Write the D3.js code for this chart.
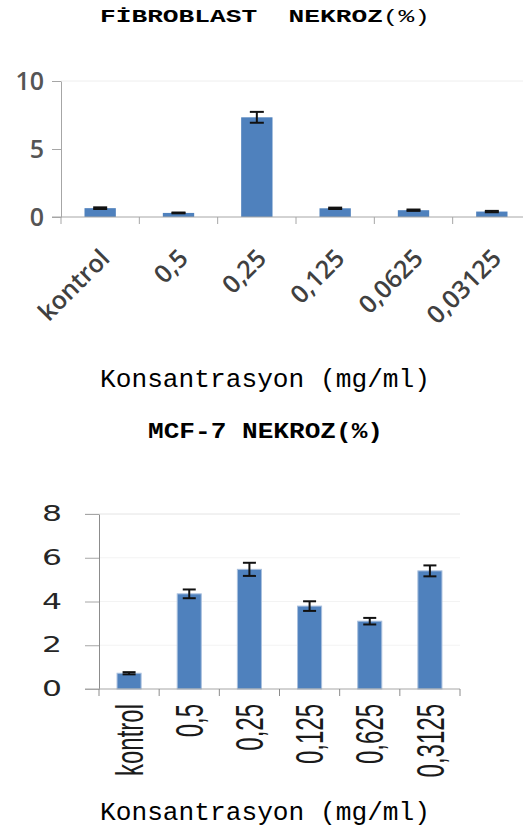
<!DOCTYPE html>
<html>
<head>
<meta charset="utf-8">
<title>Nekroz</title>
<script src="https://cdn.jsdelivr.net/npm/d3@7"></script>
<style>
  body { margin: 0; background: #fff; }
  svg { display: block; }
  .title { font-family: "Courier New", "Liberation Mono", monospace; white-space: pre; }
</style>
</head>
<body>
<svg id="chart" width="523" height="832"></svg>
<script>
// fibroblast chart
const fibroCats = ["kontrol", "0,5", "0,25", "0,125", "0,0625", "0,03125"];
const fibroVals = [0.65, 0.3, 7.33, 0.64, 0.5, 0.4];
const fibroErr = [0.06, 0.03, 0.4, 0.05, 0.05, 0.05];
const fibroTicks = [0, 5, 10];

// MCF-7 chart
const mcfCats = ["kontrol", "0,5", "0,25", "0,125", "0,625", "0,3125"];
const mcfVals = [0.72, 4.35, 5.47, 3.79, 3.1, 5.4];
const mcfErr = [0.05, 0.2, 0.3, 0.22, 0.15, 0.25];
const mcfTicks = [0, 2, 4, 6, 8];

const barColor = "#4f81bd";
const svg = d3.select("#chart");

function titles() {
  svg.append("text").attr("class", "title")
    .attr("x", 100).attr("y", 22)
    .attr("textLength", 330).attr("lengthAdjust", "spacingAndGlyphs")
    .style("font-size", "18px")
    .call(t => {
      t.append("tspan").style("font-weight", "bold").text("FİBROBLAST  NEKROZ");
      t.append("tspan").text("(%)");
    });

  svg.append("text").attr("class", "title")
    .attr("x", 148).attr("y", 438)
    .attr("textLength", 235).attr("lengthAdjust", "spacingAndGlyphs")
    .style("font-size", "22px").style("font-weight", "bold")
    .text("MCF-7 NEKROZ(%)");

  [387, 820].forEach(y => {
    svg.append("text").attr("class", "title")
      .attr("x", 100).attr("y", y)
      .attr("textLength", 330).attr("lengthAdjust", "spacingAndGlyphs")
      .style("font-size", "26px")
      .text("Konsantrasyon (mg/ml)");
  });
}

function errorBars(g, cats, vals, errs, x, y, cap) {
  const eb = g.selectAll(".err").data(cats).enter().append("g").attr("class", "err")
    .attr("stroke", "#111").attr("stroke-width", 2);
  const cx = d => x(d) + x.bandwidth() / 2;
  eb.append("line")
    .attr("x1", cx).attr("x2", cx)
    .attr("y1", (d, i) => y(vals[i] + errs[i]))
    .attr("y2", (d, i) => y(vals[i] - errs[i]));
  eb.append("line")
    .attr("x1", d => cx(d) - cap / 2).attr("x2", d => cx(d) + cap / 2)
    .attr("y1", (d, i) => y(vals[i] + errs[i]))
    .attr("y2", (d, i) => y(vals[i] + errs[i]));
  eb.append("line")
    .attr("x1", d => cx(d) - cap / 2).attr("x2", d => cx(d) + cap / 2)
    .attr("y1", (d, i) => y(vals[i] - errs[i]))
    .attr("y2", (d, i) => y(vals[i] - errs[i]));
}

function fibroChart() {
  const x = d3.scaleBand().domain(fibroCats).range([61, 531]);
  const y = d3.scaleLinear().domain([0, 10]).range([217, 81]);
  const g = svg.append("g");
  const bw = x.bandwidth() * 0.4;

  // faint top border line
  g.append("line").attr("x1", 61).attr("x2", 523)
    .attr("y1", y(10)).attr("y2", y(10)).attr("stroke", "#eeeeee");

  g.selectAll(".bar").data(fibroCats).enter().append("rect")
    .attr("class", "bar")
    .attr("x", d => x(d) + (x.bandwidth() - bw) / 2)
    .attr("width", bw)
    .attr("y", (d, i) => y(fibroVals[i]))
    .attr("height", (d, i) => y(0) - y(fibroVals[i]))
    .attr("fill", barColor);

  errorBars(g, fibroCats, fibroVals, fibroErr, x, y, 14);

  const ya = g.append("g").attr("transform", "translate(61,0)")
    .call(d3.axisLeft(y).tickValues(fibroTicks).tickSize(9).tickSizeOuter(0));
  ya.select(".domain").attr("stroke", "#a6a6a6");
  ya.selectAll(".tick line").attr("stroke", "#a6a6a6");
  ya.selectAll(".tick text").attr("x", -17)
    .style("font-family", "'Open Sans', sans-serif").style("font-size", "25px")
    .style("font-weight", 600)
    .attr("fill", "#555555");

  g.append("line").attr("x1", 52).attr("x2", 523)
    .attr("y1", y(0)).attr("y2", y(0)).attr("stroke", "#a6a6a6");
  g.selectAll(".xt").data(fibroCats).enter().append("line")
    .attr("x1", d => x(d)).attr("x2", d => x(d))
    .attr("y1", y(0)).attr("y2", y(0) + 7).attr("stroke", "#a6a6a6");

  g.selectAll(".xl").data(fibroCats).enter().append("text")
    .attr("transform", d => `translate(${x(d) + x.bandwidth() / 2 + 11},${y(0) + 43}) rotate(-45)`)
    .attr("text-anchor", "end")
    .style("font-family", "'Open Sans', sans-serif").style("font-size", "25px")
    .style("font-weight", 600)
    .attr("fill", "#404040")
    .text(d => d);
}

function mcfChart() {
  const x = d3.scaleBand().domain(mcfCats).range([99, 460]);
  const y = d3.scaleLinear().domain([0, 8]).range([689, 514]);
  const g = svg.append("g");
  const bw = x.bandwidth() * 0.4;

  // gridlines
  g.selectAll(".grid").data(mcfTicks.slice(1)).enter().append("line")
    .attr("x1", d => d === 8 ? 85 : 99).attr("x2", 460)
    .attr("y1", d => y(d)).attr("y2", d => y(d))
    .attr("stroke", d => d === 8 ? "#e4e4e4" : "#f3f3f3");

  g.selectAll(".bar").data(mcfCats).enter().append("rect")
    .attr("class", "bar")
    .attr("x", d => x(d) + (x.bandwidth() - bw) / 2)
    .attr("width", bw)
    .attr("y", (d, i) => y(mcfVals[i]))
    .attr("height", (d, i) => y(0) - y(mcfVals[i]))
    .attr("fill", barColor)
    .attr("stroke", "#a9c0de").attr("stroke-width", 1);

  errorBars(g, mcfCats, mcfVals, mcfErr, x, y, 13);

  const ya = g.append("g").attr("transform", "translate(99,0)")
    .call(d3.axisLeft(y).tickValues(mcfTicks).tickSize(14).tickSizeOuter(0));
  ya.select(".domain").attr("stroke", "#8c8c8c");
  ya.selectAll(".tick line").attr("stroke", "#a6a6a6");
  ya.selectAll(".tick text").attr("x", -37)
    .style("font-family", "'DejaVu Sans', sans-serif").style("font-size", "21px")
    .attr("textLength", 20).attr("lengthAdjust", "spacingAndGlyphs")
    .attr("fill", "#262626");

  g.append("line").attr("x1", 85).attr("x2", 460)
    .attr("y1", y(0)).attr("y2", y(0)).attr("stroke", "#a6a6a6");
  g.selectAll(".xt").data(mcfCats.concat(["end"])).enter().append("line")
    .attr("x1", (d, i) => i < mcfCats.length ? x(d) : 460)
    .attr("x2", (d, i) => i < mcfCats.length ? x(d) : 460)
    .attr("y1", y(0)).attr("y2", y(0) + 7).attr("stroke", "#8c8c8c");

  g.selectAll(".xl").data(mcfCats).enter().append("text")
    .attr("transform", d => `translate(${x(d) + x.bandwidth() / 2},${y(0) + 15}) rotate(-90) scale(0.8,1.27)`)
    .attr("text-anchor", "end")
    .attr("dy", "0.36em")
    .style("font-family", "'Liberation Sans', sans-serif")
    .style("font-size", "30px")
    .attr("fill", "#1a1a1a")
    .text(d => d);
}

titles();
fibroChart();
mcfChart();
</script>
</body>
</html>
